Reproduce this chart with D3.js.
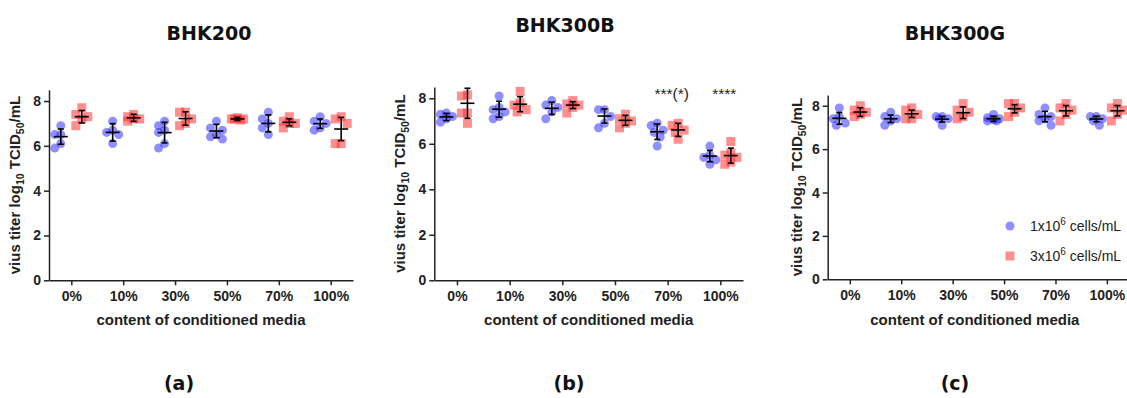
<!DOCTYPE html>
<html>
<head>
<meta charset="utf-8">
<script src="https://cdn.jsdelivr.net/npm/d3@7"></script>
<style>
  body { margin: 0; background: #fff; }
  svg { display: block; }
  .axis text { font-family: "Liberation Sans", Arial, sans-serif; font-weight: bold; font-size: 14px; fill: #222; }
  .axis path, .axis line { stroke: #222; stroke-width: 1.5px; }
  .ttl { font-family: "DejaVu Sans", sans-serif; font-weight: bold; font-size: 19px; fill: #111; }
  .lab { font-family: "Liberation Sans", Arial, sans-serif; font-weight: bold; font-size: 15px; fill: #222; }
  .leg { font-family: "Liberation Sans", Arial, sans-serif; font-size: 14px; fill: #222; }
</style>
</head>
<body>
<svg id="chart" width="1127" height="398"></svg>
<script>
(function(){

// ---- data ----
const categories = ["0%", "10%", "30%", "50%", "70%", "100%"];
const yTicks = [0, 2, 4, 6, 8];
const panelTitles = ["BHK200", "BHK300B", "BHK300G"];
const panelTags = ["(a)", "(b)", "(c)"];
const legendLabels = ["1x10", "3x10"];

// individual replicates, per category
const bhk200Low = [[6.9, 6.5, 6.5, 6.1, 5.9], [7.1, 6.7, 6.6, 6.5, 6.1], [7.1, 6.9, 6.7, 6.6, 6.1, 5.9],
                   [7.1, 6.8, 6.7, 6.5, 6.4, 6.3], [7.5, 7.2, 7.0, 6.8, 6.5], [7.3, 7.1, 7.0, 6.8, 6.7]];
const bhk200High = [[7.7, 7.4, 7.3, 7.2, 6.9], [7.4, 7.3, 7.2, 7.2, 7.1], [7.5, 7.5, 7.2, 7.0, 6.9],
                    [7.25, 7.2, 7.2, 7.15, 7.2], [7.3, 7.1, 7.0, 7.0, 6.8], [7.3, 7.2, 7.0, 6.1, 6.1]];
const bhk300bLow = [[7.35, 7.3, 7.2, 7.1, 6.95], [8.1, 7.6, 7.5, 7.4, 7.2, 7.1], [7.9, 7.7, 7.6, 7.4, 7.1],
                    [7.5, 7.5, 7.2, 6.9, 6.7], [6.9, 6.8, 6.6, 6.5, 6.3, 5.9], [5.9, 5.5, 5.4, 5.3, 5.1]];
const bhk300bHigh = [[8.15, 8.1, 7.35, 7.35, 6.9], [8.3, 7.8, 7.7, 7.5, 7.4], [7.9, 7.75, 7.7, 7.6, 7.35],
                     [7.3, 7.1, 7.0, 6.9, 6.7], [6.9, 6.8, 6.6, 6.5, 6.2], [6.1, 5.6, 5.5, 5.4, 5.2, 5.1]];
const bhk300gLow = [[7.9, 7.5, 7.4, 7.2, 7.1], [7.7, 7.5, 7.4, 7.3, 7.1], [7.5, 7.5, 7.4, 7.4, 7.1],
                    [7.6, 7.45, 7.4, 7.35, 7.3, 7.3], [7.9, 7.6, 7.5, 7.4, 7.3, 7.1], [7.5, 7.5, 7.4, 7.3, 7.1]];
const bhk300gHigh = [[8.0, 7.8, 7.7, 7.6, 7.5], [7.9, 7.8, 7.6, 7.4, 7.4], [8.1, 7.8, 7.7, 7.5, 7.4],
                     [8.1, 8.1, 7.9, 7.7, 7.5], [8.1, 7.9, 7.8, 7.6, 7.3], [8.1, 7.9, 7.8, 7.6, 7.3]];

// mean and SD as drawn
const bhk200LowMean = [6.41, 6.6, 6.59, 6.66, 7.0, 6.99];
const bhk200LowSd = [0.34, 0.39, 0.46, 0.3, 0.38, 0.21];
const bhk200HighMean = [7.3, 7.25, 7.22, 7.2, 7.05, 6.75];
const bhk200HighSd = [0.28, 0.16, 0.3, 0.07, 0.16, 0.52];
const bhk300bLowMean = [7.18, 7.52, 7.56, 7.22, 6.53, 5.46];
const bhk300bLowSd = [0.16, 0.35, 0.27, 0.31, 0.34, 0.25];
const bhk300bHighMean = [7.78, 7.74, 7.7, 7.03, 6.61, 5.48];
const bhk300bHighSd = [0.66, 0.33, 0.15, 0.22, 0.29, 0.33];
const bhk300gLowMean = [7.42, 7.4, 7.38, 7.4, 7.5, 7.39];
const bhk300gLowSd = [0.27, 0.17, 0.13, 0.12, 0.24, 0.13];
const bhk300gHighMean = [7.71, 7.63, 7.68, 7.86, 7.77, 7.77];
const bhk300gHighSd = [0.2, 0.17, 0.27, 0.19, 0.24, 0.24];

const sigLabels = [[], [{cat: "70%", text: "***(*)"}, {cat: "100%", text: "****"}], []];

const groups = [
  {low: bhk200Low, high: bhk200High, lowMean: bhk200LowMean, lowSd: bhk200LowSd, highMean: bhk200HighMean, highSd: bhk200HighSd},
  {low: bhk300bLow, high: bhk300bHigh, lowMean: bhk300bLowMean, lowSd: bhk300bLowSd, highMean: bhk300bHighMean, highSd: bhk300bHighSd},
  {low: bhk300gLow, high: bhk300gHigh, lowMean: bhk300gLowMean, lowSd: bhk300gLowSd, highMean: bhk300gHighMean, highSd: bhk300gHighSd}
];

// ---- layout ----
const layout = [
  {x0: 49, x1: 353, yb: 280.3, yt: 89.8, titleX: 209, titleY: 40, ylabX: 20, tagX: 179},
  {x0: 434.3, x1: 743, yb: 280.3, yt: 86.9, titleX: 565, titleY: 32, ylabX: 405, tagX: 569},
  {x0: 827.7, x1: 1129, yb: 279.3, yt: 94.9, titleX: 955, titleY: 40, ylabX: 802, tagX: 955}
];

const blue = "#2020ff", red = "#ff2020";
const svg = d3.select("#chart");

// simple column scatter: spread colliding points a few px sideways
function swarm(vals, y)
{
  let placed = [];
  vals.slice().sort((a, b) => b - a).forEach(v => {
    let py = y(v), best = 0, bestD = -1;
    for (let off of [0, -6, 6, -3, 3]) {
      let d = d3.min(placed, p => Math.hypot(p.x - off, p.y - py));
      if (d === undefined) d = 99;
      if (d >= 7) { best = off; break; }
      if (d > bestD) { bestD = d; best = off; }
    }
    placed.push({x: best, y: py});
  });
  return placed;
}

layout.forEach((L, pi) => {
  let g = svg.append("g");
  let x = d3.scalePoint().domain(categories).range([L.x0, L.x1]).padding(0.43);
  let y = d3.scaleLinear().domain([0, 8.5]).range([L.yb, L.yt]);
  let G = groups[pi];

  // axes
  g.append("g").attr("class", "axis")
    .attr("transform", "translate(" + L.x0 + ",0)")
    .call(d3.axisLeft(y).tickValues(yTicks).tickSize(5).tickPadding(3).tickSizeOuter(0));
  g.append("g").attr("class", "axis")
    .attr("transform", "translate(0," + L.yb + ")")
    .call(d3.axisBottom(x).tickSize(5).tickPadding(6).tickSizeOuter(0));

  // y label with subscripts
  let yl = g.append("text").attr("class", "lab")
    .attr("transform", "translate(" + L.ylabX + "," + ((L.yb + L.yt) / 2) + ") rotate(-90)")
    .attr("text-anchor", "middle");
  yl.append("tspan").text("vius titer log");
  yl.append("tspan").attr("font-size", "10.5px").attr("dy", 4).text("10");
  yl.append("tspan").attr("dy", -4).text(" TCID");
  yl.append("tspan").attr("font-size", "10.5px").attr("dy", 4).text("50");
  yl.append("tspan").attr("dy", -4).text("/mL");

  g.append("text").attr("class", "lab")
    .attr("x", (L.x0 + Math.min(L.x1, 1122)) / 2).attr("y", 325)
    .attr("text-anchor", "middle").text("content of conditioned media");

  g.append("text").attr("class", "ttl").attr("x", L.titleX).attr("y", L.titleY)
    .attr("text-anchor", "middle").text(panelTitles[pi]);
  g.append("text").attr("class", "ttl").attr("x", L.tagX).attr("y", 390)
    .attr("text-anchor", "middle").text(panelTags[pi]);

  // points
  categories.forEach((c, ci) => {
    swarm(G.low[ci], y).forEach(p => {
      g.append("circle").attr("cx", x(c) - 10.5 + p.x).attr("cy", p.y).attr("r", 4.5)
        .attr("fill", blue).attr("fill-opacity", 0.5);
    });
    swarm(G.high[ci], y).forEach(p => {
      g.append("rect").attr("x", x(c) + 10.5 + p.x - 4.5).attr("y", p.y - 4.5)
        .attr("width", 9).attr("height", 9)
        .attr("fill", red).attr("fill-opacity", 0.5);
    });
  });

  // mean +/- SD
  function errBar(cx, m, s)
  {
    let e = g.append("g").attr("stroke", "#000").attr("stroke-width", 1.6).attr("fill", "none");
    e.append("line").attr("x1", cx).attr("x2", cx).attr("y1", y(m + s)).attr("y2", y(m - s));
    e.append("line").attr("x1", cx - 3).attr("x2", cx + 3).attr("y1", y(m + s)).attr("y2", y(m + s));
    e.append("line").attr("x1", cx - 3).attr("x2", cx + 3).attr("y1", y(m - s)).attr("y2", y(m - s));
    e.append("line").attr("x1", cx - 7).attr("x2", cx + 7).attr("y1", y(m)).attr("y2", y(m));
  }
  categories.forEach((c, ci) => {
    errBar(x(c) - 10.5, G.lowMean[ci], G.lowSd[ci]);
    errBar(x(c) + 10.5, G.highMean[ci], G.highSd[ci]);
  });

  sigLabels[pi].forEach(s => {
    g.append("text").attr("class", "leg").style("font-size", "15.5px")
      .attr("x", x(s.cat) + 4).attr("y", 99).attr("text-anchor", "middle").text(s.text);
  });

  // legend in last panel
  if (pi === 2) {
    let lg = g.append("g");
    lg.append("circle").attr("cx", 1010).attr("cy", 226).attr("r", 4.5)
      .attr("fill", blue).attr("fill-opacity", 0.5);
    lg.append("rect").attr("x", 1005.5).attr("y", 251.5).attr("width", 9).attr("height", 9)
      .attr("fill", red).attr("fill-opacity", 0.5);
    legendLabels.forEach((t, i) => {
      let tx = lg.append("text").attr("class", "leg").attr("x", 1030).attr("y", 231 + i * 30);
      tx.append("tspan").text(t);
      tx.append("tspan").attr("font-size", "10px").attr("dy", -6).text("6");
      tx.append("tspan").attr("dy", 6).text(" cells/mL");
    });
  }
});

})();
</script>
</body>
</html>
